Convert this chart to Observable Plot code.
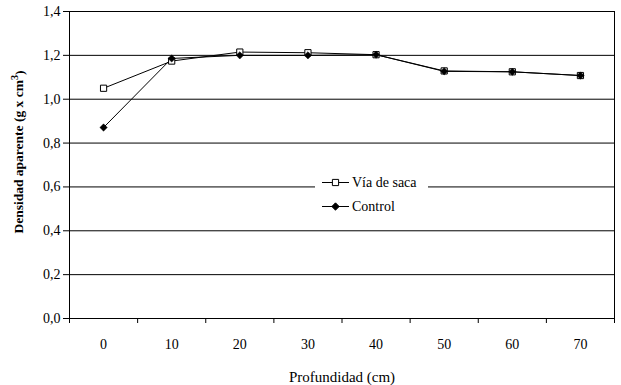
<!DOCTYPE html>
<html>
<head>
<meta charset="utf-8">
<script src="https://cdn.jsdelivr.net/npm/d3@7"></script>
<script src="https://cdn.jsdelivr.net/npm/@observablehq/plot@0.6"></script>
</head>
<body style="margin:0;background:white">
<div id="chart"></div>
<script>
const depths = [0, 10, 20, 30, 40, 50, 60, 70];
const viaDeSaca = [1.05, 1.174, 1.215, 1.212, 1.203, 1.129, 1.125, 1.108];
const control = [0.871, 1.186, 1.20, 1.20, 1.203, 1.127, 1.125, 1.108];
const yTicks = [0, 0.2, 0.4, 0.6, 0.8, 1.0, 1.2, 1.4];
const xTickMarks = [-5, 5, 15, 25, 35, 45, 55, 65, 75];
const seriesNames = ["V\u00eda de saca", "Control"];
const xLabel = "Profundidad (cm)";
const yLabelMain = "Densidad aparente (g x cm";
const yLabelSup = "3";

const via = depths.map((d, i) => ({depth: d, value: viaDeSaca[i]}));
const ctl = depths.map((d, i) => ({depth: d, value: control[i]}));

const fam = "Liberation Serif";

const plot = Plot.plot({
  width: 621,
  height: 385,
  marginLeft: 69,
  marginRight: 7,
  marginTop: 11,
  marginBottom: 67,
  style: {fontFamily: fam, fontSize: "14px"},
  x: {domain: [-5, 75]},
  y: {domain: [0, 1.4]},
  marks: [
    Plot.ruleY(yTicks.slice(1), {stroke: "black", strokeWidth: 1}),
    Plot.frame({stroke: "black"}),
    Plot.axisY({ticks: yTicks, tickSize: 6, tickPadding: 3, tickFormat: d => d.toFixed(1).replace(".", ","), label: null, fontSize: 14}),
    Plot.axisX({ticks: xTickMarks, tickSize: 5, tickFormat: () => "", label: null}),
    Plot.axisX({ticks: depths, tickSize: 0, tickPadding: 21, tickFormat: d => String(d), label: null, fontSize: 14}),
    Plot.line(via, {x: "depth", y: "value", stroke: "black", strokeWidth: 1}),
    Plot.line(ctl, {x: "depth", y: "value", stroke: "black", strokeWidth: 1}),
    Plot.dot(via, {x: "depth", y: "value", symbol: "square", r: 3.5, fill: "white", stroke: "black", strokeWidth: 1}),
    Plot.dot(ctl, {x: "depth", y: "value", symbol: "diamond2", r: 3.3, fill: "black", stroke: "black", strokeWidth: 0.5}),
    Plot.text([xLabel], {frameAnchor: "bottom", dy: 59, fontSize: 15, lineAnchor: "middle"}),
    Plot.text([yLabelMain], {frameAnchor: "left", dx: -51, dy: -13, rotate: -90, fontSize: 13.5, fontWeight: "bold", textAnchor: "middle", lineAnchor: "middle", className: "ylab"})
  ]
});

const svg = d3.select(plot);
// superscript and closing parenthesis of the y label
const ylab = svg.select(".ylab text");
ylab.append("tspan").attr("dy", "-0.45em").attr("font-size", "0.75em").text(yLabelSup);
ylab.append("tspan").attr("dy", "0.45em").text(")");

// Legend (inside the plot area, on a white box)
const lg = svg.append("g").attr("font-size", 14).attr("font-family", fam).attr("text-anchor", "start");
lg.append("rect").attr("x", 315).attr("y", 170).attr("width", 113).attr("height", 51).attr("fill", "white");
const items = [
  {name: seriesNames[0], y: 182.5, sym: d3.symbolSquare, size: 3.5 * 3.5 * Math.PI, fill: "white"},
  {name: seriesNames[1], y: 206.5, sym: d3.symbolDiamond2, size: 3.3 * 3.3 * Math.PI, fill: "black"}
];
for (const it of items) {
  lg.append("line").attr("x1", 322).attr("x2", 349).attr("y1", it.y).attr("y2", it.y).attr("stroke", "black");
  lg.append("path").attr("d", d3.symbol(it.sym, it.size)()).attr("transform", `translate(335.5,${it.y})`)
    .attr("fill", it.fill).attr("stroke", "black");
  lg.append("text").attr("x", 352).attr("y", it.y).attr("dy", "0.35em").attr("fill", "black").text(it.name);
}

document.getElementById("chart").appendChild(plot);
</script>
</body>
</html>
